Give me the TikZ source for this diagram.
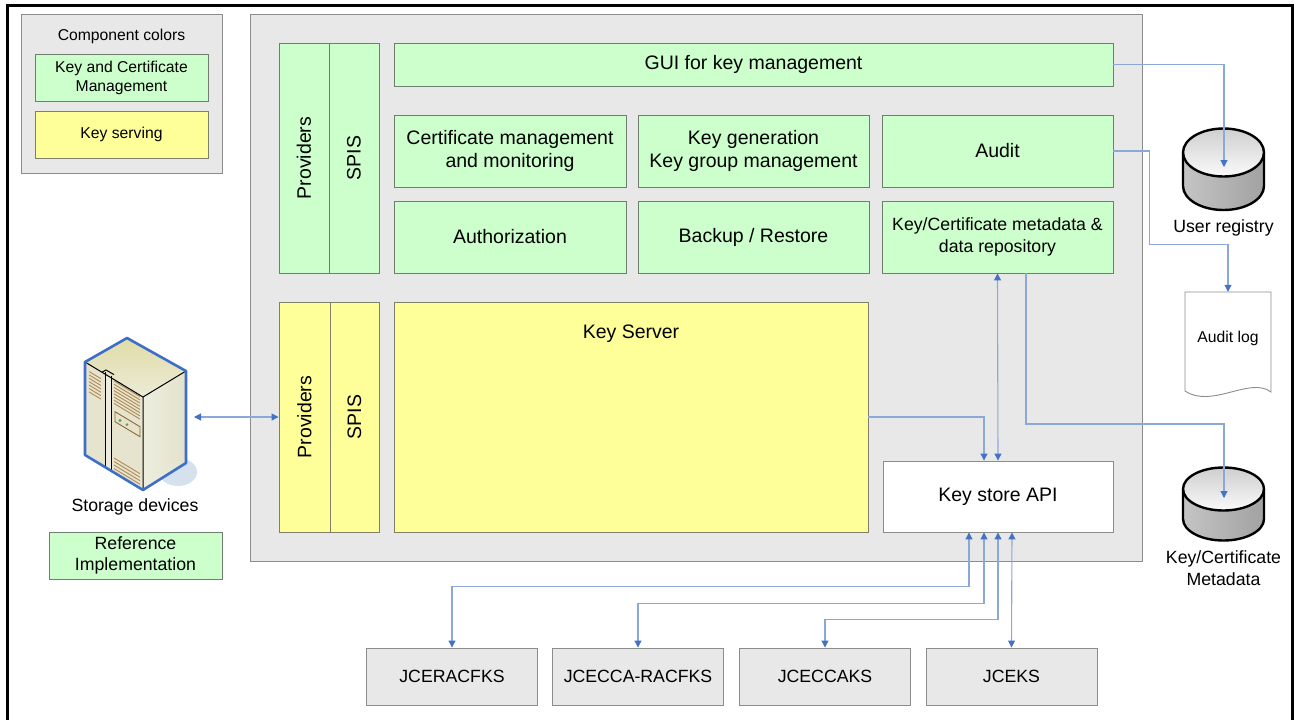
\documentclass[tikz,border=0pt]{standalone}
\usepackage{fontspec}
\setmainfont{Liberation Sans}
\usetikzlibrary{arrows.meta}

\definecolor{panelgray}{HTML}{E8E8E8}
\definecolor{edgegray}{HTML}{8C8C8C}
\definecolor{mgmtgreen}{HTML}{CCFFCC}
\definecolor{mgmtedge}{HTML}{6F7F6F}
\definecolor{serveyellow}{HTML}{FFFF99}
\definecolor{serveedge}{HTML}{80806A}
\definecolor{linkblue}{HTML}{8CA8D8}
\definecolor{tipblue}{HTML}{4472C4}
\definecolor{srvblue}{HTML}{3E6FC8}
\definecolor{srvface}{HTML}{E6E4CE}
\definecolor{srvside}{HTML}{EEEEDF}
\definecolor{srvsidedark}{HTML}{E2E2CC}
\definecolor{srvtop}{HTML}{E0DCA8}
\definecolor{srvtoplight}{HTML}{ECEBD6}
\definecolor{srvstrip}{HTML}{EDECDA}
\definecolor{srvshadow}{HTML}{D6E1EE}
\definecolor{panelbrown}{HTML}{8A6A3A}
\definecolor{panelfill}{HTML}{E8E2C8}
\definecolor{ledgreen}{HTML}{5A9A78}
\definecolor{ventbrown}{HTML}{B08A55}
\definecolor{cylleft}{HTML}{C4C4C4}
\definecolor{cylmid}{HTML}{E6E6E6}
\definecolor{cylright}{HTML}{A2A2A2}
\definecolor{cyltop}{HTML}{CFCFCF}
\definecolor{cyltoplight}{HTML}{FAFAFA}

\newcommand\diagbig{\fontsize{19.5}{23}\selectfont}
\newcommand\diagmed{\fontsize{17.7}{21.5}\selectfont}
\newcommand\diagsmall{\fontsize{15.7}{19}\selectfont}

\begin{document}
\begin{tikzpicture}[x=1pt,y=-1pt,
  box/.style={draw, line width=0.9pt, inner sep=0pt, align=center, text=black},
  graybox/.style={box, fill=panelgray, draw=edgegray},
  greenbox/.style={box, fill=mgmtgreen, draw=mgmtedge},
  yellowbox/.style={box, fill=serveyellow, draw=serveedge},
  whitebox/.style={box, fill=white, draw=edgegray},
  plain/.style={inner sep=0pt, align=center, text=black},
  conn/.style={draw=linkblue, line width=1.1pt},
  >={Triangle[width=7pt,length=7pt,color=tipblue]},
  vent/.style={draw=ventbrown, line width=0.9pt},
]
\useasboundingbox (0,0) rectangle (1294,720);
\clip (0,0) rectangle (1294,720);

% frame
\draw[line width=2.6pt] (7.5,760) -- (7.5,5.5) -- (1292.5,5.5) -- (1292.5,760);

% legend
\node[graybox, minimum width=201pt, minimum height=159pt] (legend) at (121.5,93.5) {};
\node[plain, font=\diagsmall] (legtitle) at (121.5,36) {Component colors};
\node[greenbox, font=\diagsmall, minimum width=173pt, minimum height=47pt] (leggreen) at (121.5,77.5) {Key and Certificate\\Management};
\node[yellowbox, font=\diagsmall, minimum width=173pt, minimum height=47pt] (legyellow) at (121.5,134.5) {Key serving};

% main container
\node[graybox, minimum width=892pt, minimum height=547pt] (main) at (696,287.5) {};

% management layer
\node[greenbox, minimum width=50pt, minimum height=230pt] (gprov) at (304,158) {};
\node[plain, font=\diagbig, rotate=90] at (gprov) {Providers};
\node[greenbox, minimum width=50pt, minimum height=230pt] (gspis) at (354,158) {};
\node[plain, font=\diagbig, rotate=90] at (gspis) {SPIS};
\node[greenbox, font=\diagbig, minimum width=719pt, minimum height=43pt] (gui) at (753.5,64.5) {GUI for key management};
\node[greenbox, font=\diagbig, minimum width=232pt, minimum height=72pt] (cert) at (510,151) {Certificate management\\and monitoring};
\node[greenbox, font=\diagbig, minimum width=231pt, minimum height=72pt] (keygen) at (753.5,151) {Key generation\\Key group management};
\node[greenbox, font=\diagbig, minimum width=231pt, minimum height=72pt] (audit) at (997.5,151) {Audit};
\node[greenbox, font=\diagbig, minimum width=232pt, minimum height=72pt] (authz) at (510,237) {Authorization};
\node[greenbox, font=\diagbig, minimum width=231pt, minimum height=72pt] (backup) at (753.5,237) {Backup / Restore};
\node[greenbox, font=\diagmed, minimum width=231pt, minimum height=72pt] (repo) at (997.5,237) {Key/Certificate metadata \&\\data repository};

% serving layer
\node[yellowbox, minimum width=51pt, minimum height=230pt] (yprov) at (304.5,417) {};
\node[plain, font=\diagbig, rotate=90] at (yprov) {Providers};
\node[yellowbox, minimum width=49pt, minimum height=230pt] (yspis) at (354.5,417) {};
\node[plain, font=\diagbig, rotate=90] at (yspis) {SPIS};
\node[yellowbox, minimum width=474pt, minimum height=230pt,
  label={[font=\diagbig, anchor=center, yshift=-32pt]north:Key Server}] (ks) at (631,417) {};
\node[whitebox, font=\diagbig, minimum width=230pt, minimum height=71pt] (ksapi) at (998,496.5) {Key store API};

% key store types
\node[graybox, font=\diagmed, minimum width=171pt, minimum height=57pt] (j1) at (452,676.5) {JCERACFKS};
\node[graybox, font=\diagmed, minimum width=171pt, minimum height=57pt] (j2) at (638,676.5) {JCECCA-RACFKS};
\node[graybox, font=\diagmed, minimum width=171pt, minimum height=57pt] (j3) at (825,676.5) {JCECCAKS};
\node[graybox, font=\diagmed, minimum width=171pt, minimum height=57pt] (j4) at (1011.5,676.5) {JCEKS};

% storage server
\fill[srvshadow] (178,472) ellipse[x radius=19pt, y radius=14pt];
\fill[srvface] (85,362) -- (143,397) -- (143,490) -- (85,455) -- cycle;
\shade[left color=srvside, right color=srvsidedark] (143,397) -- (186,371) -- (186,463) -- (143,490) -- cycle;
\shade[top color=srvtop, bottom color=srvtoplight] (85,362) -- (127,338) -- (186,371) -- (143,397) -- cycle;
\fill[srvstrip] (105,374) -- (111,377.6) -- (111,471) -- (105,467.4) -- cycle;
\draw[line width=1pt] (105,372) -- (105,467.4) (111,375.6) -- (111,471);
\draw[line width=1pt] (102,372.2) -- (106,370) -- (114,374.6);
\foreach \k in {0,...,6} \draw[vent] (89,371.5+3.4*\k) -- (101,378.7+3.4*\k);
\foreach \k in {0,...,7} \draw[vent] (114,381+3.2*\k) -- (140,396.7+3.2*\k);
\draw[draw=panelbrown, fill=panelfill, line width=0.9pt] (115,411.7) -- (140,426.7) -- (140,436.7) -- (115,421.7) -- cycle;
\fill[ledgreen] (120,420.5) circle[radius=1.6pt] (127,424.6) circle[radius=1.6pt];
\foreach \k in {0,...,3} \draw[vent] (114,458+3.5*\k) -- (140,473.7+3.5*\k);
\draw[line width=1pt] (85,362) -- (143,397) -- (186,371) (143,397) -- (143,490);
\draw[srvblue, line width=2.6pt, line join=round] (85,362) -- (127,338) -- (186,371) -- (186,463) -- (143,490) -- (85,455) -- cycle;
\coordinate (srvport) at (194,417);
\node[plain, font=\diagmed] (srvtext) at (135,507) {Storage devices};
\node[greenbox, font=\diagmed, minimum width=173pt, minimum height=47pt] (refimpl) at (135.5,555.5) {Reference\\Implementation};

% user registry database
\shade[left color=cylleft, middle color=cylmid, right color=cylright]
  (1183,152.5) -- (1183,186) arc[start angle=180, end angle=360, x radius=40.5pt, y radius=24pt] -- (1264,152.5) -- cycle;
\shade[top color=cyltop, bottom color=cyltoplight] (1223.5,152.5) ellipse[x radius=40.5pt, y radius=24pt];
\draw[line width=2.4pt] (1183,152.5) -- (1183,186) arc[start angle=180, end angle=360, x radius=40.5pt, y radius=24pt] -- (1264,152.5);
\draw[line width=2.4pt] (1223.5,152.5) ellipse[x radius=40.5pt, y radius=24pt];
\coordinate (uregin) at (1224,167);
\node[plain, font=\diagmed] (uregtext) at (1223.5,228) {User registry};

% audit log document
\draw[fill=white, draw=edgegray, line width=0.9pt] (1185,292) -- (1271,292) -- (1271,392)
  .. controls (1250,376) and (1212,409) .. (1185,391) -- cycle;
\node[plain, font=\diagsmall, minimum width=86pt, minimum height=92pt] (alog) at (1228,338) {Audit log};

% key/certificate metadata database
\shade[left color=cylleft, middle color=cylmid, right color=cylright]
  (1183,489) -- (1183,519) arc[start angle=180, end angle=360, x radius=40.5pt, y radius=21.5pt] -- (1264,489) -- cycle;
\shade[top color=cyltop, bottom color=cyltoplight] (1223.5,489) ellipse[x radius=40.5pt, y radius=21.5pt];
\draw[line width=2.4pt] (1183,489) -- (1183,519) arc[start angle=180, end angle=360, x radius=40.5pt, y radius=21.5pt] -- (1264,489);
\draw[line width=2.4pt] (1223.5,489) ellipse[x radius=40.5pt, y radius=21.5pt];
\coordinate (kcmin) at (1224,498);
\node[plain, font=\diagmed] (kcmtext) at (1223.5,568) {Key/Certificate\\Metadata};

% connectors
\draw[conn, <->] (srvport) -- (yprov.west);
\draw[conn, ->] (gui.east) -| (uregin);
\draw[conn, ->] (audit.east) -- ++(36,0) |- ([yshift=47pt]alog.north) -| (alog.north);
\draw[conn, ->] ([xshift=28.5pt]repo.south) |- ([yshift=74pt]kcmin) -- (kcmin);
\draw[conn, ->] (ks.east) -| ([xshift=-14pt]ksapi.north);
\draw[conn, <->] (repo.south) -- (ksapi.north);
\draw[conn, <->] ([xshift=-29pt]ksapi.south) -- ++(0,54) -| (j1.north);
\draw[conn, <->] ([xshift=-14pt]ksapi.south) -- ++(0,71) -| (j2.north);
\draw[conn, <->] (ksapi.south) -- ++(0,87) -| (j3.north);
\draw[conn, <->] ([xshift=14pt]ksapi.south) -- (j4.north);
\end{tikzpicture}
\end{document}
